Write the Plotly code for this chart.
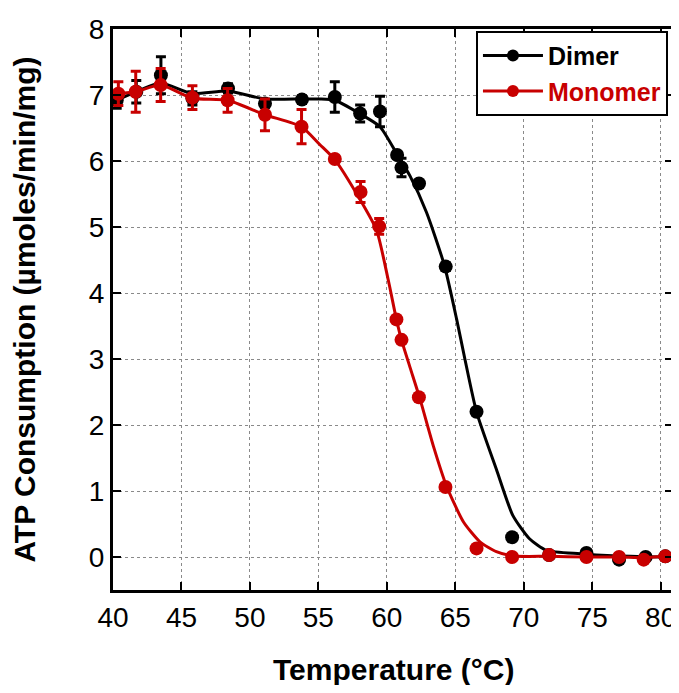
import plotly.graph_objects as go

# ---- data ----
dimer_temp = [40.27, 41.7, 43.5, 45.8, 48.4, 51.1, 53.8, 56.2, 58.05, 59.5, 60.75, 61.07, 62.35, 64.3, 66.55, 69.15, 71.85, 74.58, 76.96, 78.9, 80.34]
dimer_rate = [6.92, 7.05, 7.3, 6.95, 7.1, 6.87, 6.93, 6.97, 6.72, 6.75, 6.09, 5.9, 5.66, 4.4, 2.2, 0.3, 0.03, 0.06, -0.04, 0.0, 0.01]
dimer_err = [0.12, 0.17, 0.28, 0.1, 0.07, 0.05, 0.06, 0.23, 0.13, 0.23, 0.04, 0.14, 0.04, 0.06, 0.0, 0.0, 0.0, 0.0, 0.0, 0.0, 0.0]

mono_temp = [40.39, 41.66, 43.48, 45.8, 48.37, 51.1, 53.77, 56.2, 58.08, 59.44, 60.7, 61.07, 62.34, 64.28, 66.55, 69.15, 71.85, 74.58, 76.96, 78.76, 80.34]
mono_rate = [7.02, 7.05, 7.15, 6.96, 6.92, 6.7, 6.52, 6.03, 5.53, 5.01, 3.6, 3.29, 2.42, 1.06, 0.13, 0.0, 0.03, 0.0, 0.0, -0.04, 0.01]
mono_err = [0.18, 0.31, 0.25, 0.18, 0.18, 0.24, 0.26, 0.0, 0.16, 0.12, 0.0, 0.0, 0.0, 0.0, 0.0, 0.0, 0.0, 0.0, 0.0, 0.0, 0.0]

dimer_fit_temp = [40.27, 41.7, 43.5, 45.8, 48.4, 51.1, 53.8, 55.1, 56.2, 58.0, 59.5, 60.7, 61.7, 62.9, 64.2, 65.1, 65.7, 66.55, 68.0, 69.2, 70.4, 71.65, 74.1, 76.5, 80.3]
dimer_fit_rate = [6.92, 7.05, 7.18, 7.02, 7.06, 6.94, 6.94, 6.94, 6.92, 6.72, 6.52, 6.12, 5.77, 5.22, 4.42, 3.6, 3.0, 2.2, 1.33, 0.63, 0.28, 0.1, 0.05, 0.02, 0.0]

mono_fit_temp = [40.39, 41.66, 43.48, 45.8, 48.37, 51.1, 53.77, 55.1, 56.2, 58.0, 59.25, 60.1, 60.7, 61.07, 61.7, 62.4, 63.4, 64.35, 65.6, 66.8, 68.0, 69.2, 71.85, 74.58, 76.96, 78.76, 80.34]
mono_fit_rate = [7.02, 7.05, 7.15, 6.95, 6.92, 6.7, 6.52, 6.25, 6.02, 5.43, 4.95, 4.2, 3.6, 3.29, 2.87, 2.41, 1.68, 1.08, 0.53, 0.23, 0.08, 0.015, 0.01, 0.0, 0.0, -0.01, 0.01]

series_names = ["Dimer", "Monomer"]
x_ticks = [40, 45, 50, 55, 60, 65, 70, 75, 80]
y_ticks = [0, 1, 2, 3, 4, 5, 6, 7, 8]
x_title = "Temperature (°C)"
y_title = "ATP Consumption (µmoles/min/mg)"

BLACK = "#000000"
RED = "#c80000"
FONT = "Liberation Sans, Arial, Helvetica, sans-serif"

fig = go.Figure()


def add_series(xs, ys, errs, fx, fy, color, name):
    fig.add_trace(go.Scatter(
        x=fx, y=fy, mode="lines",
        line=dict(color=color, width=3, shape="spline", smoothing=0.6),
        showlegend=False, hoverinfo="skip"))
    fig.add_trace(go.Scatter(
        x=xs, y=ys, mode="markers",
        marker=dict(color=color, size=14),
        error_y=dict(type="data", array=errs, color=color, thickness=3, width=5),
        showlegend=False))
    fig.add_trace(go.Scatter(
        x=[None], y=[None], mode="lines+markers",
        line=dict(color=color, width=3),
        marker=dict(color=color, size=12),
        name=f"<span style='color:{color}'>{name}</span>",
        showlegend=True))


add_series(dimer_temp, dimer_rate, dimer_err, dimer_fit_temp, dimer_fit_rate, BLACK, series_names[0])
add_series(mono_temp, mono_rate, mono_err, mono_fit_temp, mono_fit_rate, RED, series_names[1])

axis_common = dict(
    showline=True, linecolor="black", linewidth=3, mirror="ticks",
    ticks="inside", ticklen=8, tickwidth=2, tickcolor="black",
    showgrid=True, gridcolor="#8a8a8a", gridwidth=1, griddash="dot",
    zeroline=False, automargin=False,
    tickfont=dict(family=FONT, size=28, color="black"),
)

fig.update_xaxes(
    range=[40, 80.9], tickvals=x_ticks, ticktext=[str(v) for v in x_ticks],
    **axis_common)
fig.update_yaxes(
    range=[-0.5, 8], tickvals=y_ticks, ticktext=[str(v) for v in y_ticks],
    title=dict(text=y_title, font=dict(family=FONT, size=30, color="black", weight="bold"), standoff=45),
    **axis_common)

fig.add_annotation(
    text=x_title, xref="paper", yref="paper", x=0.5, y=-0.142,
    xanchor="center", yanchor="middle", showarrow=False,
    font=dict(family=FONT, size=30, color="black", weight="bold"))

# the page body adds an 8px margin, so the figure is sized to fit the 679x693 window
fig.update_layout(
    width=671, height=677,
    margin=dict(l=105, r=6, t=21, b=95),
    paper_bgcolor="white", plot_bgcolor="white",
    font=dict(family=FONT, color="black"),
    legend=dict(
        x=0.991, xanchor="right", y=0.997, yanchor="top",
        bgcolor="white", bordercolor="black", borderwidth=2,
        font=dict(family=FONT, size=25, color="black", weight="bold"),
        itemwidth=60, tracegroupgap=0,
    ),
)

fig.write_html("out.html")
